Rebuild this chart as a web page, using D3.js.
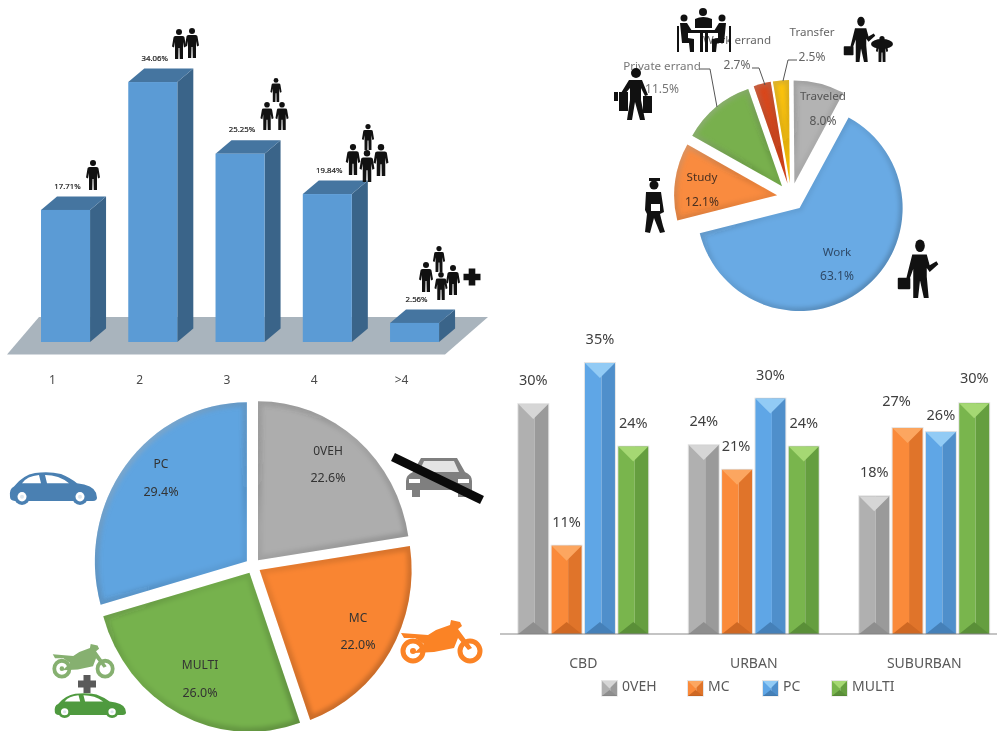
<!DOCTYPE html>
<html><head><meta charset="utf-8">
<style>html,body{margin:0;padding:0;background:#fff}svg{display:block;filter:blur(0.4px)}text{font-family:"Noto Sans",sans-serif}</style>
<script src="https://cdn.jsdelivr.net/npm/d3@7"></script></head><body>
<svg id="c" width="997" height="731" viewBox="0 0 997 731"></svg>
<script>
// ---------- data ----------
const householdCats = ["1","2","3","4",">4"];
const householdValues = [17.71,34.86,25.25,19.84,2.56];
const householdLabels = ["17.71%","34.06%","25.25%","19.84%","2.56%"];

const purposeCats = ["Work","Study","Private errand","Work errand","Transfer","Traveled"];
const purposeValues = [63.1,12.1,11.5,2.7,2.5,8.0];

const vehicleCats = ["0VEH","MC","MULTI","PC"];
const vehicleValues = [22.6,22.0,26.0,29.4];

const areaCats = ["CBD","URBAN","SUBURBAN"];
const modeCats = ["0VEH","MC","PC","MULTI"];
const area0VEH = [29.7,24.4,17.8];
const areaMC = [11.4,21.2,26.6];
const areaPC = [35.0,30.4,26.1];
const areaMULTI = [24.2,24.2,29.8];

// ---------- setup ----------
const svg = d3.select("#c");
const defs = svg.append("defs");
defs.append("filter").attr("id","soft").append("feGaussianBlur").attr("stdDeviation",2);
const INK="#3f3f3f";
function txt(g,x,y,s,size,fill,anchor){return g.append("text").attr("x",x).attr("y",y).attr("dy","0.35em")
  .attr("text-anchor",anchor||"middle").attr("font-size",size).attr("fill",fill||INK).text(s);}

// ---------- icons ----------
function person(g,cx,top,h,fill){
  const k=h/60,p=g.append("g").attr("transform",`translate(${cx},${top}) scale(${k})`).attr("fill",fill||"#111");
  p.append("circle").attr("cy",6).attr("r",6);
  p.append("path").attr("d","M-11,17 Q-11,14 -7,14 L7,14 Q11,14 11,17 L14,35 L10,37 L8,26 L8,60 L1.500,60 L1,38 L-1,38 L-1.500,60 L-8,60 L-8,26 L-10,37 L-14,35 Z");
}
function suit(g,cx,top,h){
  const k=h/60,p=g.append("g").attr("transform",`translate(${cx},${top}) scale(${k})`).attr("fill","#111");
  p.append("ellipse").attr("cy",6).attr("rx",5).attr("ry",6.500);
  p.append("path").attr("d","M-8,15 L7,15 L10,26 L17,22 L19,25 L10,33 L7,29 L7,38 L9,60 L4,60 L0,42 L-2,60 L-7,60 L-7,38 L-7,30 L-11,41 L-14,39 Z");
  p.append("rect").attr("x",-23).attr("y",39).attr("width",13).attr("height",12).attr("rx",1);
}
function plus(g,cx,cy,s,fill){
  g.append("path").attr("fill",fill||"#111").attr("transform",`translate(${cx},${cy}) scale(${s/18})`)
   .attr("d","M-3.500,-9 H3.500 V-3.500 H9 V3.500 H3.500 V9 H-3.500 V3.500 H-9 V-3.500 H-3.500 Z");
}
function car(g,x,y,w,h,fill){
  const c=g.append("g").attr("transform",`translate(${x},${y}) scale(${w/88},${h/32})`);
  c.append("path").attr("fill",fill).attr("d","M1,24 Q0,16 5,14 Q14,3 26,1 Q40,-1 52,2 Q62,6 68,11 Q84,13 87,20 L88,25 Q88,28 84,28 L6,28 Q1,28 1,24 Z");
  c.append("path").attr("fill","#fff").attr("d","M13,11 Q18,4 30,3 L32,11 Z M36,3 Q50,3 60,11 L38,11 Z");
  for(const cx of [13,71]){
    c.append("circle").attr("cx",cx).attr("cy",24).attr("r",8).attr("fill",fill);
    c.append("circle").attr("cx",cx).attr("cy",24).attr("r",4.500).attr("fill","#fff");
    c.append("circle").attr("cx",cx).attr("cy",24).attr("r",2).attr("fill","#dce6ee");
  }
}
function moto(g,x,y,w,h,fill){
  const c=g.append("g").attr("transform",`translate(${x},${y}) scale(${w/83},${h/44})`);
  for(const cx of [13,70]) c.append("circle").attr("cx",cx).attr("cy",31).attr("r",10).attr("fill","none").attr("stroke",fill).attr("stroke-width",5);
  c.append("circle").attr("cx",13).attr("cy",31).attr("r",3).attr("fill",fill);
  c.append("path").attr("fill",fill).attr("d","M1,13 L28,15 L36,10 L50,5 L51,0 L60,2 L62,6 L58,9 L72,28 L68,30 L58,18 L54,28 L34,32 L14,33 L24,24 L15,18 L4,18 Z");
}
function frontCar(g,x,y,w,h,fill){
  const c=g.append("g").attr("transform",`translate(${x},${y}) scale(${w/66},${h/39})`);
  c.append("path").attr("fill",fill).attr("d","M15,0 L51,0 L59,14 Q66,17 66,23 L66,32 L60,32 L60,39 L52,39 L52,32 L14,32 L14,39 L6,39 L6,32 L0,32 L0,23 Q0,17 7,14 Z");
  c.append("path").attr("fill","#e4e4e4").attr("d","M18,3 L48,3 L53,14 L13,14 Z");
  c.append("path").attr("fill","#fff").attr("d","M3,21 L14,21 L14,25 L3,25 Z M52,21 L63,21 L63,25 L52,25 Z");
}

// ---------- bevelled pie ----------
function lightGrad(id,x1,y1,x2,y2){
  const gr=defs.append("linearGradient").attr("id",id).attr("gradientUnits","userSpaceOnUse")
    .attr("x1",x1).attr("y1",y1).attr("x2",x2).attr("y2",y2);
  gr.append("stop").attr("offset",0).attr("stop-color","#fff").attr("stop-opacity",0.5);
  gr.append("stop").attr("offset",0.45).attr("stop-color","#000").attr("stop-opacity",0.05);
  gr.append("stop").attr("offset",1).attr("stop-color","#000").attr("stop-opacity",0.25);
}
function pie(root,id,cx,cy,r,sx,startDeg,explode,bevel,values,colors){
  const start=startDeg*Math.PI/180;
  const arcs=d3.pie().sort(null).startAngle(start).endAngle(start+2*Math.PI)(values);
  const arc=d3.arc().innerRadius(0).outerRadius(r);
  const holder=root.append("g").attr("transform",`translate(${cx},${cy}) scale(${sx},1)`);
  arcs.forEach((a,i)=>{
    const mid=(a.startAngle+a.endAngle)/2;
    const g=holder.append("g").attr("transform",`translate(${Math.sin(mid)*explode/sx},${-Math.cos(mid)*explode})`);
    const cid=`${id}-clip-${i}`, gid=`${id}-grad-${i}`;
    lightGrad(gid,-r,-r,r,r);
    g.append("clipPath").attr("id",cid).append("path").attr("d",arc(a));
    g.append("path").attr("d",arc(a)).attr("fill",colors[i]);
    g.append("g").attr("clip-path",`url(#${cid})`).append("path").attr("d",arc(a)).attr("fill","none")
      .attr("stroke",`url(#${gid})`).attr("stroke-width",bevel).attr("filter","url(#soft)");
  });
}

// ---------- panel 1: 3D bars ----------
(function(){
  const g=svg.append("g");
  const base=342, dx=16, dy=-13.5;
  const x=d3.scaleBand().domain(householdCats).range([21.9,458.2]).paddingInner(0.438).paddingOuter(0.219);
  const y=d3.scaleLinear().domain([0,35]).range([base,base-261]);
  const floor=[[7,354.500],[445,354.500],[488,317],[39,317]];
  g.append("polygon").attr("points",floor.join(" ")).attr("fill","#a9b4bd");
  householdCats.forEach((c,i)=>{
    const l=x(c),w=x.bandwidth(),t=y(householdValues[i]);
    g.append("polygon").attr("fill","#3a6489").attr("points",[[l+w,t],[l+w+dx,t+dy],[l+w+dx,base+dy],[l+w,base]].join(" "));
    g.append("polygon").attr("fill","#4575a0").attr("points",[[l,t],[l+dx,t+dy],[l+w+dx,t+dy],[l+w,t]].join(" "));
    g.append("rect").attr("x",l).attr("y",t).attr("width",w).attr("height",base-t).attr("fill","#5b9bd5");
    g.append("text").attr("x",l+w/2+2).attr("y",t-24).attr("dy","0.35em").attr("text-anchor","middle")
      .attr("font-size",7.8).attr("fill","#222").attr("stroke","#222").attr("stroke-width",0.2).text(householdLabels[i]);
    txt(g,l+w/2-13,380,c,12,"#4a4a4a");
  });
  person(g,93,160,30);
  person(g,179,29,30); person(g,192,28,30);
  person(g,276,78,24); person(g,267,102,28); person(g,282,102,28);
  person(g,368,124,26); person(g,353,144,31); person(g,367,150,32); person(g,381,144,32);
  person(g,439,246,26); person(g,426,262,30); person(g,441,272,28); person(g,453,265,30);
  plus(g,472,277,17);
})();

// ---------- panel 2: trip purpose pie ----------
(function(){
  const g=svg.append("g");
  const colors=["#69aae4","#f98b3f","#78b04d","#d9461a","#fdc30a","#b3b3b3"];
  pie(g,"p2",791,197,103,1,28.4,14,7,purposeValues,colors);
  const leaders=[[[700,69],[710,69],[717,107]],[[752,68],[759,68],[765,85]],[[797,60],[788,60],[783,81]]];
  leaders.forEach(p=>g.append("path").attr("d",d3.line()(p)).attr("fill","none").attr("stroke","#555").attr("stroke-width",1));
  const pct=v=>d3.format(".1f")(v)+"%";
  const spots=[[837,252,276],[702,177,202],[662,66,89],[737,40,65],[812,32,57],[823,96,121]];
  const fills=["#2f4a68","#4a3020","#777","#666","#666","#555"];
  purposeCats.forEach((c,i)=>{
    txt(g,spots[i][0],spots[i][1],c,11.6,fills[i]);
    txt(g,spots[i][0],spots[i][2],pct(purposeValues[i]),12,fills[i]);
  });
  suit(g,920,240,58);
  suit(g,861,17,45);
  // companion beside the transfer figure
  person(g,882,36,26);
  g.append("ellipse").attr("cx",882).attr("cy",44).attr("rx",11).attr("ry",5).attr("fill","#111");
  // meeting table with seated figures
  const ink=g.append("g").attr("fill","#111").attr("stroke","none");
  ink.append("rect").attr("x",686).attr("y",30).attr("width",34).attr("height",3);
  ink.append("rect").attr("x",700).attr("y",33).attr("width",3).attr("height",19);
  ink.append("rect").attr("x",705).attr("y",33).attr("width",3).attr("height",19);
  ink.append("circle").attr("cx",703).attr("cy",12).attr("r",4);
  ink.append("path").attr("d","M695,19 Q703,15 712,19 L712,28 L695,28 Z");
  ink.append("circle").attr("cx",684).attr("cy",18).attr("r",3.500);
  ink.append("path").attr("d","M680,23 L687,23 L692,31 L688,33 L688,38 L694,39 L694,52 L690,52 L689,43 L682,43 Z");
  ink.append("circle").attr("cx",722).attr("cy",18).attr("r",3.500);
  ink.append("path").attr("d","M726,23 L719,23 L714,31 L718,33 L718,38 L712,39 L712,52 L716,52 L717,43 L724,43 Z");
  ink.append("rect").attr("x",677).attr("y",26).attr("width",2).attr("height",26);
  ink.append("rect").attr("x",729).attr("y",26).attr("width",2).attr("height",26);
  // shopper
  ink.append("circle").attr("cx",636).attr("cy",73).attr("r",5);
  ink.append("path").attr("d","M629,80 L642,80 L648,95 L645,96 L641,88 L641,100 L645,120 L640,120 L635,102 L632,120 L627,120 L630,100 L630,88 L624,95 L621,93 Z");
  ink.append("rect").attr("x",619).attr("y",92).attr("width",9).attr("height",19);
  ink.append("rect").attr("x",643).attr("y",96).attr("width",9).attr("height",17);
  ink.append("rect").attr("x",614).attr("y",92).attr("width",4).attr("height",9);
  // student
  ink.append("rect").attr("x",649).attr("y",178).attr("width",11).attr("height",3);
  ink.append("circle").attr("cx",654).attr("cy",185).attr("r",4.500);
  ink.append("path").attr("d","M646,192 L661,192 L664,212 L660,214 L663,226 L665,232 L660,233 L654,218 L650,233 L645,232 L647,214 L645,210 Z");
  ink.append("rect").attr("x",651).attr("y",204).attr("width",9).attr("height",7).attr("fill","#fff");
})();

// ---------- panel 3: vehicle pie ----------
(function(){
  const g=svg.append("g");
  const colors=["#adadad","#f98532","#76b24d","#5fa4e0"];
  pie(g,"p3",253,566,159,152/159,0,7.7,9,vehicleValues,colors);
  const spots=[[328,451,478],[358,618,645],[200,665,693],[161,464,492]];
  vehicleCats.forEach((c,i)=>{
    txt(g,spots[i][0],spots[i][1],c,12,"#333");
    txt(g,spots[i][0],spots[i][2],d3.format(".1f")(vehicleValues[i])+"%",12.5,"#333");
  });
  car(g,9,472,88,33,"#4a80b2");
  frontCar(g,406,458,66,39,"#7f7f7f");
  g.append("line").attr("x1",393).attr("y1",457).attr("x2",482).attr("y2",500).attr("stroke","#0a0a0a").attr("stroke-width",9);
  moto(g,400,620,83,44,"#fb8325");
  moto(g,52,644,63,35,"#86b070");
  plus(g,87,684,18,"#5a5a5a");
  car(g,54,693,72,25,"#4f9a3f");
})();

// ---------- panel 4: grouped bars ----------
(function(){
  const g=svg.append("g");
  const base=634;
  const series=[area0VEH,areaMC,areaPC,areaMULTI];
  const shades=[
    {m:"#b0b0b0",d:"#9a9a9a",top:"#d6d6d6",bot:"#8e8e8e"},
    {m:"#fa8a3a",d:"#e0742a",top:"#fca660",bot:"#cf6823"},
    {m:"#5fa6e6",d:"#4f8fcb",top:"#92cbf5",bot:"#4580b8"},
    {m:"#79b54d",d:"#659e3f",top:"#a5d873",bot:"#5a8f38"}];
  const x0=d3.scaleBand().domain(areaCats).range([498,1009.500]).paddingInner(0.2375).paddingOuter(0.119);
  const x1=d3.scaleBand().domain(modeCats).range([0,x0.bandwidth()]).paddingInner(0.1);
  const y=d3.scaleLinear().domain([0,35]).range([base,363]);
  const nudge={"URBAN-MC":[-1,0],"SUBURBAN-MC":[-11,-3],"SUBURBAN-PC":[0,7],"SUBURBAN-MULTI":[0,-1]};
  function bevelBar(p,l,t,w,h,s,b0){
    const b=Math.min(w/2,b0), bh=Math.min(b,h/2), mid=l+w*0.55;
    p.append("rect").attr("x",l).attr("y",t).attr("width",mid-l).attr("height",h).attr("fill",s.m);
    p.append("rect").attr("x",mid).attr("y",t).attr("width",l+w-mid).attr("height",h).attr("fill",s.d);
    p.append("polygon").attr("points",[[l,t],[l+w,t],[l+w/2,t+bh]].join(" ")).attr("fill",s.top);
    p.append("polygon").attr("points",[[l,t+h],[l+w,t+h],[l+w-b,t+h-bh*0.8],[l+b,t+h-bh*0.8]].join(" ")).attr("fill",s.bot);
    p.append("rect").attr("x",l-0.500).attr("y",t-0.500).attr("width",w+1).attr("height",h+0.500).attr("fill","none").attr("stroke","#000").attr("stroke-opacity",0.1);
  }
  areaCats.forEach((c,gi)=>{
    modeCats.forEach((m,si)=>{
      const v=series[si][gi], l=x0(c)+x1(m), w=x1.bandwidth(), t=y(v), n=nudge[c+"-"+m]||[0,0];
      bevelBar(g,l,t,w,base-t,shades[si],15);
      txt(g,l+w/2+n[0],t-24+n[1],d3.format(".0f")(v)+"%",14.5,"#3f3f3f");
    });
    txt(g,x0(c)+x0.bandwidth()/2,663,c,14,"#595959");
  });
  g.append("line").attr("x1",500).attr("x2",997).attr("y1",base).attr("y2",base).attr("stroke","#8a8a8a").attr("stroke-width",1.2);
  // legend
  const lg=d3.scaleOrdinal().domain(modeCats).range([602,688,763,832]);
  modeCats.forEach((m,si)=>{
    bevelBar(g,lg(m),681,15,15,shades[si],7.5);
    txt(g,lg(m)+20,686,m,14,"#595959","start");
  });
})();
</script></body></html>
